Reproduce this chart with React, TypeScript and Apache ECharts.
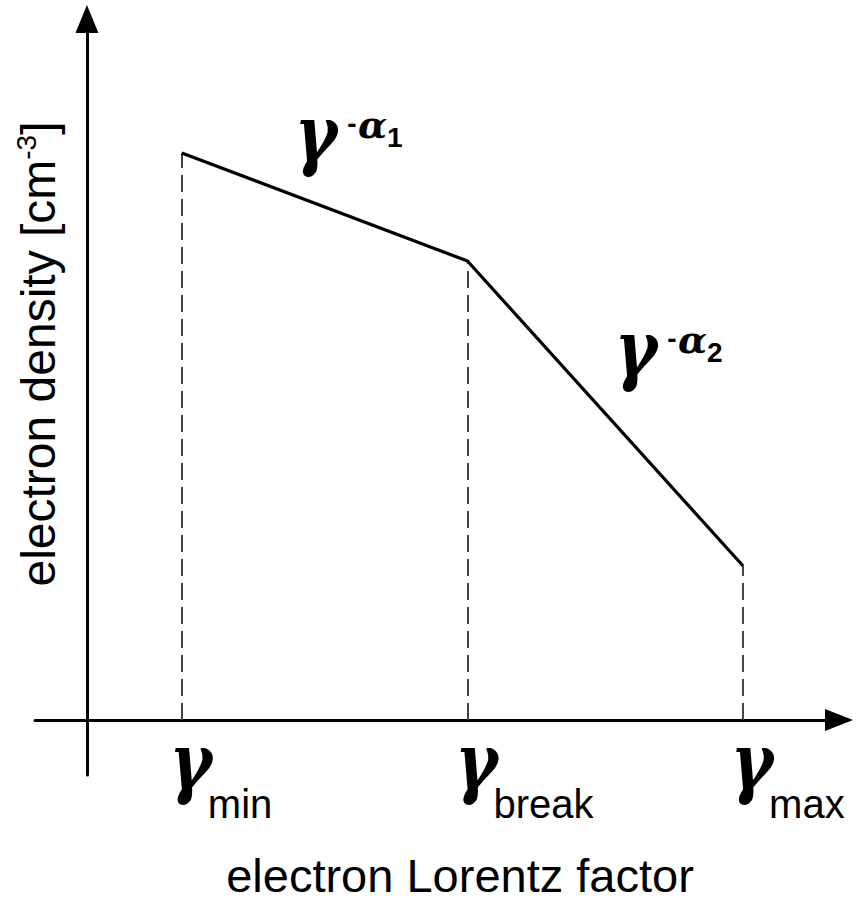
import React, { useEffect, useRef } from "react";
import * as echarts from "echarts";

// Break points of the schematic broken power law (arbitrary units)
const gammaNames = ["min", "break", "max"];
const gammaValues = [0.95, 3.81, 6.57];
const densityValues = [5.67, 4.59, 1.54];
const slopeNames = ["1", "2"];
const xTitle = "electron Lorentz factor";
const yTitle = "electron density [cm";
const yTitleSup = "-3";

const X_MIN = -0.52;
const X_MAX = 7.53;
const Y_MIN = -0.55;
const Y_MAX = 7.01;

const SERIF = "'DejaVu Serif', 'Liberation Serif', serif";
const SANS = "'Liberation Sans', Arial, sans-serif";

export default function App() {
  const ref = useRef<HTMLDivElement>(null);
  useEffect(() => {
    if (!ref.current) return;
    const chart = echarts.init(ref.current, undefined, { renderer: "svg" });
    const lineData = gammaValues.map((g, i) => [g, densityValues[i]]);
    const dashData = gammaValues.map((g, i) => [
      { coord: [g, 0] },
      { coord: [g, densityValues[i]] },
    ]);
    chart.setOption({
      animation: false,
      backgroundColor: "#ffffff",
      grid: { left: 35, right: 25, top: 19, bottom: 126 },
      xAxis: {
        type: "value",
        min: X_MIN,
        max: X_MAX,
        axisLine: {
          onZero: true,
          symbol: ["none", "triangle"],
          symbolSize: [22, 28],
          lineStyle: { color: "#000", width: 3 },
        },
        axisTick: { show: false },
        axisLabel: { show: false },
        splitLine: { show: false },
      },
      yAxis: {
        type: "value",
        min: Y_MIN,
        max: Y_MAX,
        axisLine: {
          show: true,
          onZero: true,
          symbol: ["none", "triangle"],
          symbolSize: [23, 28],
          lineStyle: { color: "#000", width: 3 },
        },
        axisTick: { show: false },
        axisLabel: { show: false },
        splitLine: { show: false },
      },
      series: [
        {
          type: "line",
          data: lineData,
          symbol: "none",
          lineStyle: { color: "#000", width: 3.2 },
          z: 5,
          markLine: {
            silent: true,
            symbol: "none",
            label: { show: false },
            lineStyle: { color: "#444", width: 2, type: [17, 7] },
            data: dashData,
          },
        },
      ],
    });

    const toPx = (x: number, y: number) =>
      chart.convertToPixel({ gridIndex: 0 }, [x, y]) as number[];

    const txt = (
      x: number,
      y: number,
      text: string,
      fontSize: number,
      fontFamily: string,
      opts: any = {}
    ) => ({
      type: "text",
      x,
      y,
      scaleX: opts.scaleX || 1,
      scaleY: opts.scaleY || 1,
      z: 10,
      style: {
        text,
        fontSize,
        fontFamily,
        lineHeight: opts.lineHeight || fontSize,
        fill: "#000",
        align: opts.align || "left",
        verticalAlign: "middle",
        fontWeight: opts.fontWeight || "normal",
        fontStyle: opts.fontStyle || "normal",
      },
    });

    const gammaOpts = {
      align: "center",
      fontWeight: "bold",
      fontStyle: "italic",
      scaleX: 0.95,
      scaleY: 1.15,
    };

    const graphics: any[] = [];
    gammaValues.forEach((g, i) => {
      const p = toPx(g, 0);
      graphics.push(txt(p[0] + 9, p[1] + 42, "γ", 68, SERIF, gammaOpts));
      graphics.push(txt(p[0] + 26, p[1] + 84, gammaNames[i], 40, SANS));
    });

    // slope labels, placed near the segments
    const slopeAnchors = [
      { gx: 316, gy: 134 },
      { gx: 636, gy: 349 },
    ];
    slopeNames.forEach((s, i) => {
      const a = slopeAnchors[i];
      graphics.push(txt(a.gx, a.gy, "γ", 68, SERIF, gammaOpts));
      graphics.push(
        txt(a.gx + 36, a.gy - 11, "-", 28, SANS, { align: "center", fontWeight: "bold" })
      );
      graphics.push(
        txt(a.gx + 42, a.gy - 10, "α", 38, SERIF, { fontStyle: "italic", fontWeight: "bold" })
      );
      graphics.push(
        txt(a.gx + 71, a.gy + 3, s, 28, SANS, { fontWeight: "bold" })
      );
    });

    graphics.push(txt(460, 875, xTitle, 47, SANS, { align: "center", lineHeight: 44 }));
    graphics.push({
      type: "text",
      x: 38,
      y: 354,
      rotation: Math.PI / 2,
      z: 10,
      style: {
        text: `{a|${yTitle}}{s|${yTitleSup}}{a|]}`,
        align: "center",
        verticalAlign: "middle",
        fill: "#000",
        rich: {
          a: { fontSize: 48, fontFamily: SANS, lineHeight: 52, fill: "#000" },
          s: {
            fontSize: 28,
            fontFamily: SANS,
            lineHeight: 30,
            verticalAlign: "top",
            fill: "#000",
          },
        },
      },
    });

    chart.setOption({ graphic: graphics });
    return () => chart.dispose();
  }, []);

  return (
    <div
      ref={ref}
      style={{ position: "fixed", left: 0, top: 0, width: 864, height: 901, background: "#fff" }}
    />
  );
}
